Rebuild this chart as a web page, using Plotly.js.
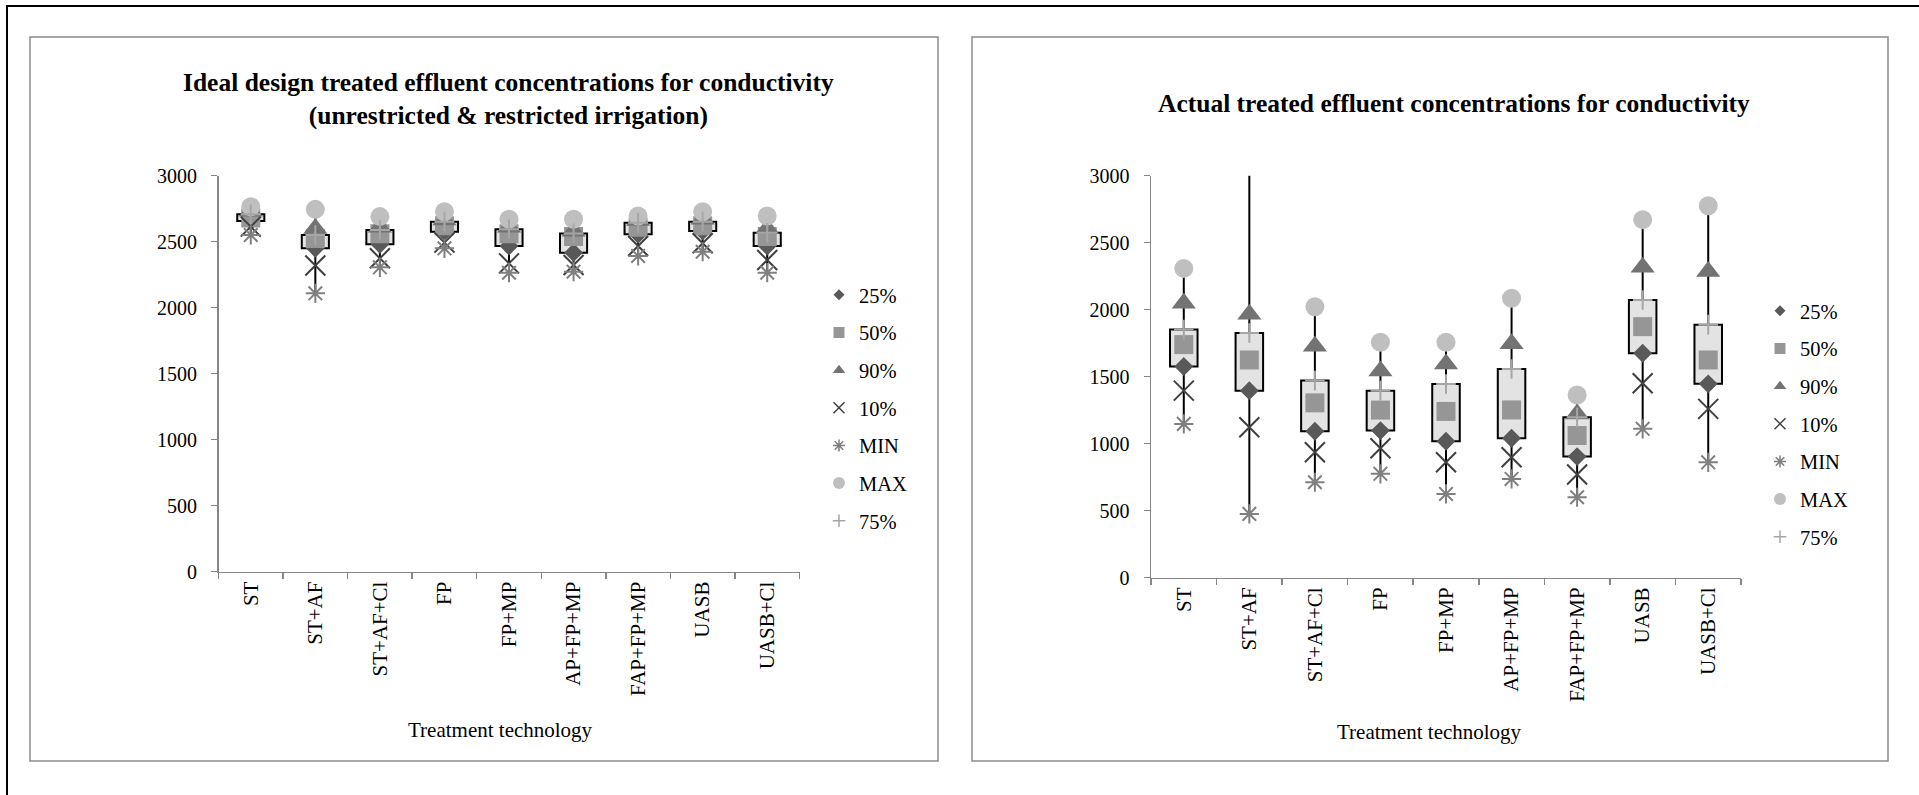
<!DOCTYPE html>
<html>
<head>
<meta charset="utf-8">
<script src="https://cdn.plot.ly/plotly-3.0.1.min.js"></script>
<style>
  html, body { margin: 0; padding: 0; background: #ffffff; }
  #chart { width: 1919px; height: 795px; }
</style>
</head>
<body>
<div id="chart"></div>
<script>
// ---------------- DATA ----------------
const categories = ['ST', 'ST+AF', 'ST+AF+Cl', 'FP', 'FP+MP', 'AP+FP+MP', 'FAP+FP+MP', 'UASB', 'UASB+Cl'];
const seriesNames = ['25%', '50%', '90%', '10%', 'MIN', 'MAX', '75%'];

// Ideal design treated effluent (left chart)
const ideal_p25 = [2657, 2450, 2480, 2576, 2467, 2417, 2556, 2581, 2467];
const ideal_p50 = [2680, 2525, 2560, 2620, 2560, 2540, 2610, 2620, 2540];
const ideal_p90 = [2730, 2600, 2610, 2665, 2610, 2580, 2660, 2670, 2600];
const ideal_p10 = [2614, 2320, 2374, 2493, 2336, 2323, 2467, 2488, 2361];
const ideal_min = [2551, 2109, 2306, 2450, 2265, 2273, 2392, 2424, 2265];
const ideal_max = [2765, 2745, 2690, 2727, 2670, 2670, 2695, 2727, 2695];
const ideal_p75 = [2708, 2551, 2589, 2652, 2594, 2563, 2644, 2652, 2568];

// Actual treated effluent (right chart)
const actual_p25 = [1575, 1395, 1092, 1097, 1017, 1040, 903, 1674, 1446];
const actual_p50 = [1739, 1624, 1304, 1250, 1240, 1251, 1060, 1873, 1624];
const actual_p90 = [2047, 1965, 1726, 1542, 1595, 1746, 1220, 2316, 2284];
const actual_p10 = [1395, 1122, 935, 965, 860, 898, 769, 1450, 1259];
const actual_min = [1147, 475, 711, 774, 624, 736, 599, 1110, 860];
const actual_max = [2308, 3300, 2022, 1756, 1756, 2085, 1363, 2672, 2776];
const actual_p75 = [1851, 1826, 1470, 1395, 1445, 1557, 1196, 2072, 1888];

const yTickVals = [0, 500, 1000, 1500, 2000, 2500, 3000];
const titleLeft = 'Ideal design treated effluent concentrations for conductivity<br>(unrestricted &amp; restricted irrigation)';
const titleRight = 'Actual treated effluent concentrations for conductivity';
const xTitle = 'Treatment technology';

// ---------------- STYLE ----------------
const FONT = 'Liberation Serif, Times New Roman, serif';
const W = 1919, H = 795;
const px = v => v / W;
const py = v => 1 - v / H;

const markerStyles = {
  '25%': {symbol: 'diamond', size: 14.5, color: '#595959'},
  '50%': {symbol: 'square', size: 19, color: '#969696'},
  '90%': {symbol: 'triangle-up', size: 21, color: '#737373'},
  '10%': {symbol: 'x-thin-open', size: 20, color: '#404040', line: {width: 2, color: '#404040'}},
  'MIN': {symbol: 'asterisk-open', size: 16, color: '#808080', line: {width: 2, color: '#808080'}},
  'MAX': {symbol: 'circle', size: 19, color: '#bfbfbf'},
  '75%': {symbol: 'cross-thin-open', size: 14, color: '#a6a6a6', line: {width: 2, color: '#a6a6a6'}}
};
// smaller marker sizes used for the legend keys
const legendSizes = {'25%': 8.5, '50%': 11, '90%': 11, '10%': 11, 'MIN': 10, 'MAX': 12, '75%': 9};

function buildTraces(d, xa, ya, legendId) {
  const traces = [];
  // up/down bar (25% -> 75%)
  traces.push({
    type: 'bar', x: categories, base: d.p25,
    y: d.p25.map((v, i) => d.p75[i] - v),
    width: 0.42, xaxis: xa, yaxis: ya, showlegend: false, hoverinfo: 'skip',
    marker: {color: '#e3e3e3', line: {color: '#000000', width: 2}}
  });
  // high-low line segments (min -> 25%, 75% -> max)
  const hx = [], hy = [];
  categories.forEach((c, i) => {
    hx.push(c, c, null, c, c, null);
    hy.push(d.min[i], d.p25[i], null, d.p75[i], d.max[i], null);
  });
  traces.push({
    type: 'scatter', mode: 'lines', x: hx, y: hy, xaxis: xa, yaxis: ya,
    line: {color: '#000000', width: 2}, showlegend: false, hoverinfo: 'skip', connectgaps: false
  });
  const arrs = {'25%': d.p25, '50%': d.p50, '90%': d.p90, '10%': d.p10, 'MIN': d.min, 'MAX': d.max, '75%': d.p75};
  seriesNames.forEach(name => {
    const ms = markerStyles[name];
    traces.push({
      type: 'scatter', mode: 'markers', name: name, x: categories, y: arrs[name],
      xaxis: xa, yaxis: ya, showlegend: false,
      marker: Object.assign({}, ms), cliponaxis: true, hoverinfo: 'skip'
    });
  });
  // legend keys (no data, only legend entries with small symbols)
  seriesNames.forEach(name => {
    const ms = Object.assign({}, markerStyles[name], {size: legendSizes[name]});
    if (ms.line) ms.line = Object.assign({}, ms.line, {width: 1.5});
    traces.push({
      type: 'scatter', mode: 'markers', name: name, x: [null], y: [null],
      xaxis: xa, yaxis: ya, legend: legendId, legendgroup: legendId + name,
      marker: ms, hoverinfo: 'skip'
    });
  });
  return traces;
}

const data = []
  .concat(buildTraces({p25: ideal_p25, p50: ideal_p50, p90: ideal_p90, p10: ideal_p10, min: ideal_min, max: ideal_max, p75: ideal_p75}, 'x', 'y', 'legend'))
  .concat(buildTraces({p25: actual_p25, p50: actual_p50, p90: actual_p90, p10: actual_p10, min: actual_min, max: actual_max, p75: actual_p75}, 'x2', 'y2', 'legend2'));

const axisLine = '#868686';
function xAxis(domain, anchor) {
  return {
    domain: domain, anchor: anchor, type: 'category', range: [-0.5, 8.5],
    showline: true, linecolor: axisLine, linewidth: 1.5,
    ticks: 'outside', ticklen: 6, tickcolor: axisLine, tickwidth: 1.5, tickson: 'boundaries',
    tickangle: -90, tickfont: {family: FONT, size: 21, color: '#000'},
    showgrid: false, zeroline: false, fixedrange: true
  };
}
function yAxis(domain, anchor) {
  return {
    domain: domain, anchor: anchor, range: [0, 3000], tickvals: yTickVals,
    showline: true, linecolor: axisLine, linewidth: 1.5,
    ticks: 'outside', ticklen: 6, tickcolor: axisLine, tickwidth: 1.5,
    ticklabelstandoff: 10,
    tickfont: {family: FONT, size: 20, color: '#000'},
    showgrid: false, zeroline: false, fixedrange: true
  };
}

function legendCfg(left, top) {
  return {
    x: px(left), y: py(top), xanchor: 'left', yanchor: 'top',
    font: {family: FONT, size: 20.5, color: '#000'},
    tracegroupgap: 8, itemsizing: 'trace', bgcolor: 'rgba(0,0,0,0)', borderwidth: 0,
    traceorder: 'grouped'
  };
}

const layout = {
  width: W, height: H,
  margin: {l: 0, r: 0, t: 0, b: 0},
  paper_bgcolor: '#ffffff', plot_bgcolor: 'rgba(0,0,0,0)',
  barmode: 'overlay',
  showlegend: true,
  xaxis: xAxis([px(218.5), px(799.5)], 'y'),
  yaxis: yAxis([py(571.7), py(175.7)], 'x'),
  xaxis2: xAxis([px(1151), px(1741)], 'y2'),
  yaxis2: yAxis([py(577.5), py(175.7)], 'x2'),
  legend: legendCfg(819, 275),
  legend2: legendCfg(1760, 291),
  shapes: [
    {type: 'rect', xref: 'paper', yref: 'paper', x0: px(7), x1: px(1930), y0: py(806), y1: py(6),
     line: {color: '#000000', width: 2}, layer: 'below'},
    {type: 'rect', xref: 'paper', yref: 'paper', x0: px(30), x1: px(938), y0: py(761), y1: py(37),
     line: {color: '#8c8c8c', width: 1.5}, layer: 'below'},
    {type: 'rect', xref: 'paper', yref: 'paper', x0: px(972), x1: px(1888), y0: py(761), y1: py(37),
     line: {color: '#8c8c8c', width: 1.5}, layer: 'below'}
  ],
  annotations: [
    {text: titleLeft, xref: 'paper', yref: 'paper', x: px(509), y: py(99.5), xanchor: 'center', yanchor: 'middle',
     showarrow: false, font: {family: FONT, size: 25.5, color: '#000', weight: 'bold'}},
    {text: titleRight, xref: 'paper', yref: 'paper', x: px(1454), y: py(104), xanchor: 'center', yanchor: 'middle',
     showarrow: false, font: {family: FONT, size: 25.5, color: '#000', weight: 'bold'}},
    {text: xTitle, xref: 'paper', yref: 'paper', x: px(500), y: py(730), xanchor: 'center', yanchor: 'middle',
     showarrow: false, font: {family: FONT, size: 21, color: '#000'}},
    {text: xTitle, xref: 'paper', yref: 'paper', x: px(1429), y: py(732), xanchor: 'center', yanchor: 'middle',
     showarrow: false, font: {family: FONT, size: 21, color: '#000'}}
  ]
};

Plotly.newPlot('chart', data, layout, {displayModeBar: false, staticPlot: true});
</script>
</body>
</html>
